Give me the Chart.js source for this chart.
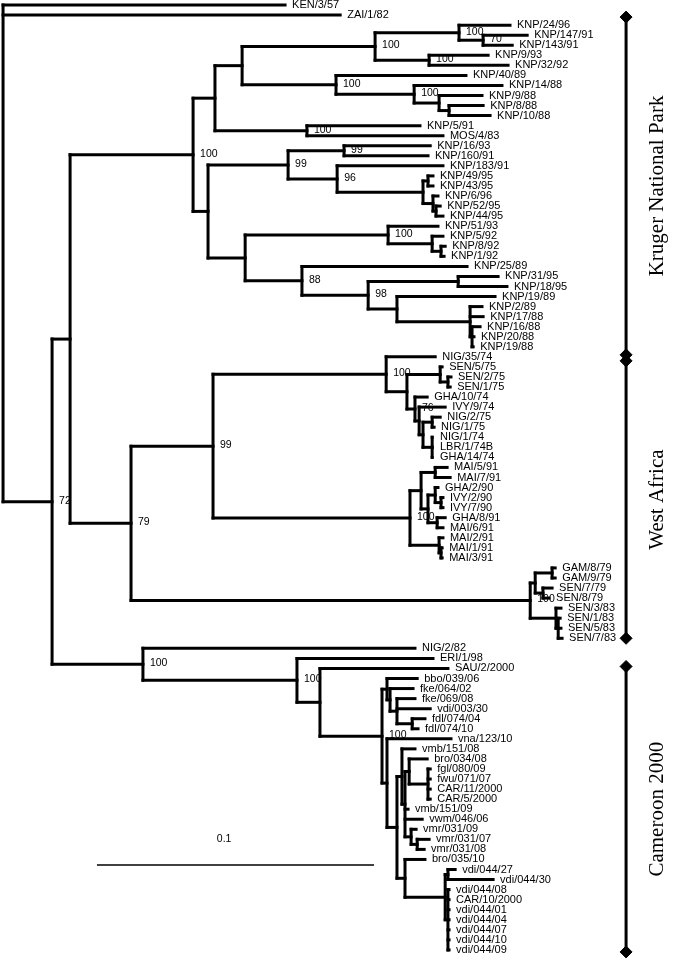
<!DOCTYPE html>
<html>
<head>
<meta charset="utf-8">
<script src="https://cdn.jsdelivr.net/npm/chart.js@4.4.0/dist/chart.umd.min.js"></script>
<style>
  html, body { margin: 0; padding: 0; background: #fff; }
  #wrap { width: 674px; height: 966px; }
</style>
</head>
<body>
<div id="wrap"><canvas id="tree" width="674" height="966"></canvas></div>
<script>
// Leaves, top to bottom (row = index)
const leafNames = [
  'KEN/3/57', 'ZAI/1/82',
  'KNP/24/96', 'KNP/147/91', 'KNP/143/91', 'KNP/9/93', 'KNP/32/92', 'KNP/40/89', 'KNP/14/88', 'KNP/9/88',
  'KNP/8/88', 'KNP/10/88', 'KNP/5/91', 'MOS/4/83', 'KNP/16/93', 'KNP/160/91', 'KNP/183/91', 'KNP/49/95',
  'KNP/43/95', 'KNP/6/96', 'KNP/52/95', 'KNP/44/95', 'KNP/51/93', 'KNP/5/92', 'KNP/8/92', 'KNP/1/92',
  'KNP/25/89', 'KNP/31/95', 'KNP/18/95', 'KNP/19/89', 'KNP/2/89', 'KNP/17/88', 'KNP/16/88', 'KNP/20/88', 'KNP/19/88',
  'NIG/35/74', 'SEN/5/75', 'SEN/2/75', 'SEN/1/75', 'GHA/10/74', 'IVY/9/74', 'NIG/2/75', 'NIG/1/75', 'NIG/1/74',
  'LBR/1/74B', 'GHA/14/74', 'MAI/5/91', 'MAI/7/91', 'GHA/2/90', 'IVY/2/90', 'IVY/7/90', 'GHA/8/91', 'MAI/6/91',
  'MAI/2/91', 'MAI/1/91', 'MAI/3/91', 'GAM/8/79', 'GAM/9/79', 'SEN/7/79', 'SEN/8/79', 'SEN/3/83', 'SEN/1/83',
  'SEN/5/83', 'SEN/7/83',
  'NIG/2/82', 'ERI/1/98', 'SAU/2/2000', 'bbo/039/06', 'fke/064/02', 'fke/069/08', 'vdi/003/30', 'fdl/074/04',
  'fdl/074/10', 'vna/123/10', 'vmb/151/08', 'bro/034/08', 'fgl/080/09', 'fwu/071/07', 'CAR/11/2000', 'CAR/5/2000',
  'vmb/151/09', 'vwm/046/06', 'vmr/031/09', 'vmr/031/07', 'vmr/031/08', 'bro/035/10', 'vdi/044/27', 'vdi/044/30',
  'vdi/044/08', 'CAR/10/2000', 'vdi/044/01', 'vdi/044/04', 'vdi/044/07', 'vdi/044/10', 'vdi/044/09'
];
const leafParents = [
  'root', 'root',
  'kC1', 'kC1a', 'kC1a', 'kC2', 'kC2', 'kD', 'kD1', 'kD2',
  'kD3', 'kD3', 'kM', 'kM', 'kE1a', 'kE1a', 'kE1b', 'kE1d',
  'kE1d', 'kE1e', 'kE1f', 'kE1f', 'kE2a', 'kE2b', 'kE2c', 'kE2c',
  'kE2d', 'kE2f', 'kE2f', 'kE2g', 'kE2h', 'kE2h', 'kE2i', 'kE2i', 'kE2i',
  'wa1', 'wa1s', 'wa1s2', 'wa1s2', 'wa76', 'wa76a', 'wa76n', 'wa76n', 'wa76c',
  'wa76c', 'wa76c', 'wa2m', 'wa2m', 'wa2g', 'wa2i', 'wa2i', 'wa2h', 'wa2h',
  'wa2c', 'wa2d', 'wa2d', 'sgG', 'sgG', 'sgS', 'sgS', 'sg2', 'sg3',
  'sg3', 'sg3',
  'cm', 'cH', 'cI', 'cK', 'cK2', 'cK3', 'cK3', 'cK4',
  'cK4', 'cL', 'cM', 'cM3', 'cM4', 'cM4', 'cM4', 'cM4',
  'cM2', 'cM2', 'cMv', 'cMv2', 'cMv2', 'cN', 'cN2a', 'cN2a',
  'cN2b', 'cN2b', 'cN2b', 'cN2b', 'cN2b', 'cN2b', 'cN2b'
];
// distance from root (substitutions per site)
const leafDepths = [
  0.1018, 0.1217,
  0.1830, 0.1892, 0.1838, 0.1751, 0.1823, 0.1671, 0.1801, 0.1729,
  0.1733, 0.1758, 0.1505, 0.1588, 0.1542, 0.1534, 0.1588, 0.1552,
  0.1552, 0.1570, 0.1578, 0.1588, 0.1570, 0.1588, 0.1596, 0.1592,
  0.1675, 0.1787, 0.1819, 0.1776, 0.1729, 0.1733, 0.1722, 0.1700, 0.1697,
  0.1560, 0.1585, 0.1617, 0.1614, 0.1531, 0.1596, 0.1578, 0.1556, 0.1552,
  0.1552, 0.1552, 0.1603, 0.1614, 0.1570, 0.1588, 0.1588, 0.1596, 0.1588,
  0.1588, 0.1585, 0.1585, 0.1993, 0.1993, 0.1982, 0.1971, 0.2014, 0.2011,
  0.2014, 0.2018,
  0.1487, 0.1552, 0.1606, 0.1495, 0.1480, 0.1487, 0.1542, 0.1523,
  0.1498, 0.1617, 0.1487, 0.1531, 0.1542, 0.1542, 0.1542, 0.1542,
  0.1462, 0.1513, 0.1491, 0.1538, 0.1520, 0.1523, 0.1632, 0.1769,
  0.1610, 0.1610, 0.1610, 0.1610, 0.1610, 0.1610, 0.1610
];

// Internal nodes
const nodeNames = [
  'root', 'n72', 'n70', 'n79', 'n99',
  'knp', 'kA', 'kB', 'kC', 'kC1', 'kC1a', 'kC2', 'kD', 'kD1', 'kD2', 'kD3', 'kM',
  'kE', 'kE1', 'kE1a', 'kE1b', 'kE1c', 'kE1d', 'kE1e', 'kE1f',
  'kE2', 'kE2a', 'kE2b', 'kE2c', 'kE2d', 'kE2e', 'kE2f', 'kE2g', 'kE2h', 'kE2i',
  'wa1', 'wa1a', 'wa1s', 'wa1s2', 'wa76', 'wa76a', 'wa76b', 'wa76n', 'wa76c',
  'wa2', 'wa2a', 'wa2m', 'wa2b', 'wa2g', 'wa2i', 'wa2h', 'wa2c', 'wa2d',
  'sg', 'sg1', 'sgG', 'sgS', 'sg2', 'sg3',
  'cm', 'cH', 'cI', 'cJ', 'cK', 'cK2', 'cK3', 'cK4', 'cL', 'cL2',
  'cM', 'cM2', 'cM3', 'cM4', 'cMv', 'cMv2', 'cN', 'cN2', 'cN2a', 'cN2b'
];
const nodeParents = [
  null, 'root', 'n72', 'n70', 'n79',
  'n70', 'knp', 'kA', 'kB', 'kC', 'kC1', 'kC', 'kB', 'kD', 'kD1', 'kD2', 'kA',
  'knp', 'kE', 'kE1', 'kE1', 'kE1b', 'kE1c', 'kE1c', 'kE1e',
  'kE', 'kE2', 'kE2a', 'kE2b', 'kE2', 'kE2d', 'kE2e', 'kE2e', 'kE2g', 'kE2h',
  'n99', 'wa1', 'wa1a', 'wa1s', 'wa1a', 'wa76', 'wa76a', 'wa76b', 'wa76b',
  'n99', 'wa2', 'wa2a', 'wa2a', 'wa2b', 'wa2g', 'wa2b', 'wa2', 'wa2c',
  'n79', 'sg', 'sg1', 'sg1', 'sg', 'sg2',
  'n72', 'cm', 'cH', 'cI', 'cJ', 'cK', 'cK2', 'cK3', 'cJ', 'cL',
  'cL2', 'cM', 'cM2', 'cM3', 'cM2', 'cMv', 'cL2', 'cN', 'cN2', 'cN2'
];
const nodeDepths = [
  0, 0.0177, 0.0242, 0.0462, 0.0758,
  0.0686, 0.0765, 0.0863, 0.1343, 0.1646, 0.1733, 0.1538, 0.1202, 0.1484, 0.1574, 0.1610, 0.1097,
  0.0740, 0.1029, 0.1231, 0.1206, 0.1516, 0.1534, 0.1552, 0.1563,
  0.0874, 0.1390, 0.1549, 0.1581, 0.1079, 0.1318, 0.1643, 0.1422, 0.1686, 0.1693,
  0.1383, 0.1458, 0.1578, 0.1606, 0.1487, 0.1502, 0.1516, 0.1549, 0.1549,
  0.1469, 0.1509, 0.1560, 0.1534, 0.1560, 0.1581, 0.1567, 0.1574, 0.1581,
  0.1903, 0.1921, 0.1982, 0.1949, 0.1996, 0.2004,
  0.0505, 0.1061, 0.1144, 0.1368, 0.1386, 0.1397, 0.1422, 0.1477, 0.1386, 0.1422,
  0.1440, 0.1451, 0.1466, 0.1534, 0.1473, 0.1495, 0.1451, 0.1596, 0.1606, 0.1606
];
// bootstrap support, '' = not shown
const nodeSupport = [
  '', '72', '', '79', '99',
  '100', '', '', '100', '100', '70', '100', '100', '100', '', '', '100',
  '', '99', '99', '96', '', '', '', '',
  '', '100', '', '', '88', '98', '', '', '', '',
  '100', '', '', '', '76', '', '', '', '',
  '100', '', '', '', '', '', '', '', '',
  '100', '', '', '', '', '',
  '100', '100', '', '100', '', '', '', '', '', '',
  '', '', '', '', '', '', '', '', '', ''
];

// Clade brackets on the right (in leaf rows)
const groupNames = ['Kruger National Park', 'West Africa', 'Cameroon 2000'];
const groupTop = [1.2, 35.4, 65.8];
const groupBottom = [34.8, 63.0, 94.2];
const groupDepth = 0.2249;
const groupLabelDepth = 0.2361;

// Scale bar
const scaleBarStart = 0.0339;
const scaleBarLength = 0.1;
const scaleBarRow = 85.55;
const scaleBarLabel = '0.1';
const scaleBarLabelAt = 0.0798;

// ---- build tree
const nodes = {};
nodeNames.forEach((n, i) => {
  nodes[n] = { name: n, parent: nodeParents[i], depth: nodeDepths[i], support: nodeSupport[i], children: [], leaf: false };
});
leafNames.forEach((n, i) => {
  nodes['leaf:' + i] = { name: n, parent: leafParents[i], depth: leafDepths[i], y: i, children: [], leaf: true };
});
Object.values(nodes).forEach(n => { if (n.parent) nodes[n.parent].children.push(n); });

function placeY(n) {
  if (n.leaf) return n.y;
  const ys = n.children.map(placeY);
  n.yMin = Math.min(...ys);
  n.yMax = Math.max(...ys);
  n.y = (n.yMin + n.yMax) / 2;
  return n.y;
}
placeY(nodes.root);

const branch = (pts, w) => ({
  data: pts, showLine: true, borderColor: '#000', borderWidth: w || 3,
  pointRadius: 0, borderCapStyle: 'square', fill: false
});

const datasets = [];
Object.values(nodes).forEach(n => {
  if (n.parent) {
    const p = nodes[n.parent];
    datasets.push(branch([{ x: p.depth, y: n.y }, { x: n.depth, y: n.y }]));
  }
  if (!n.leaf) {
    datasets.push(branch([{ x: n.depth, y: n.yMin }, { x: n.depth, y: n.yMax }]));
  }
});

groupNames.forEach((g, i) => {
  datasets.push({
    data: [{ x: groupDepth, y: groupTop[i] }, { x: groupDepth, y: groupBottom[i] }],
    showLine: true, borderColor: '#000', borderWidth: 3,
    pointStyle: 'rectRot', pointRadius: 6, pointBackgroundColor: '#000', pointBorderColor: '#000', pointBorderWidth: 1
  });
});

datasets.push({
  data: [{ x: scaleBarStart, y: scaleBarRow }, { x: scaleBarStart + scaleBarLength, y: scaleBarRow }],
  showLine: true, borderColor: '#000', borderWidth: 1.5, pointRadius: 0, borderCapStyle: 'butt'
});

const labelPlugin = {
  id: 'treeLabels',
  afterDatasetsDraw(chart) {
    const ctx = chart.ctx, xs = chart.scales.x, ys = chart.scales.y;
    ctx.save();
    ctx.fillStyle = '#000';
    ctx.textBaseline = 'middle';
    ctx.textAlign = 'left';

    ctx.font = '11px "Liberation Sans", Arial, sans-serif';
    Object.values(nodes).filter(n => n.leaf).forEach(n => {
      ctx.fillText(n.name, xs.getPixelForValue(n.depth) + 7, ys.getPixelForValue(n.y));
    });

    ctx.font = '10.5px "Liberation Sans", Arial, sans-serif';
    Object.values(nodes).filter(n => !n.leaf && n.support).forEach(n => {
      ctx.fillText(n.support, xs.getPixelForValue(n.depth) + 7, ys.getPixelForValue(n.y) - 1);
    });

    ctx.textAlign = 'center';
    ctx.fillText(scaleBarLabel, xs.getPixelForValue(scaleBarLabelAt), ys.getPixelForValue(scaleBarRow) - 26);

    ctx.font = '21px "Liberation Serif", "Times New Roman", serif';
    groupNames.forEach((g, i) => {
      ctx.save();
      ctx.translate(xs.getPixelForValue(groupLabelDepth), ys.getPixelForValue((groupTop[i] + groupBottom[i]) / 2));
      ctx.rotate(-Math.PI / 2);
      ctx.fillText(g, 0, 0);
      ctx.restore();
    });
    ctx.restore();
  }
};

new Chart(document.getElementById('tree'), {
  type: 'scatter',
  data: { datasets },
  options: {
    responsive: false,
    animation: false,
    devicePixelRatio: 1,
    events: [],
    layout: { padding: 0, autoPadding: false },
    plugins: { legend: { display: false }, tooltip: { enabled: false } },
    scales: {
      x: { type: 'linear', min: -0.0011, max: 0.2422, display: false },
      y: { type: 'linear', min: -0.5, max: 95.6, reverse: true, display: false }
    }
  },
  plugins: [labelPlugin]
});
</script>
</body>
</html>
